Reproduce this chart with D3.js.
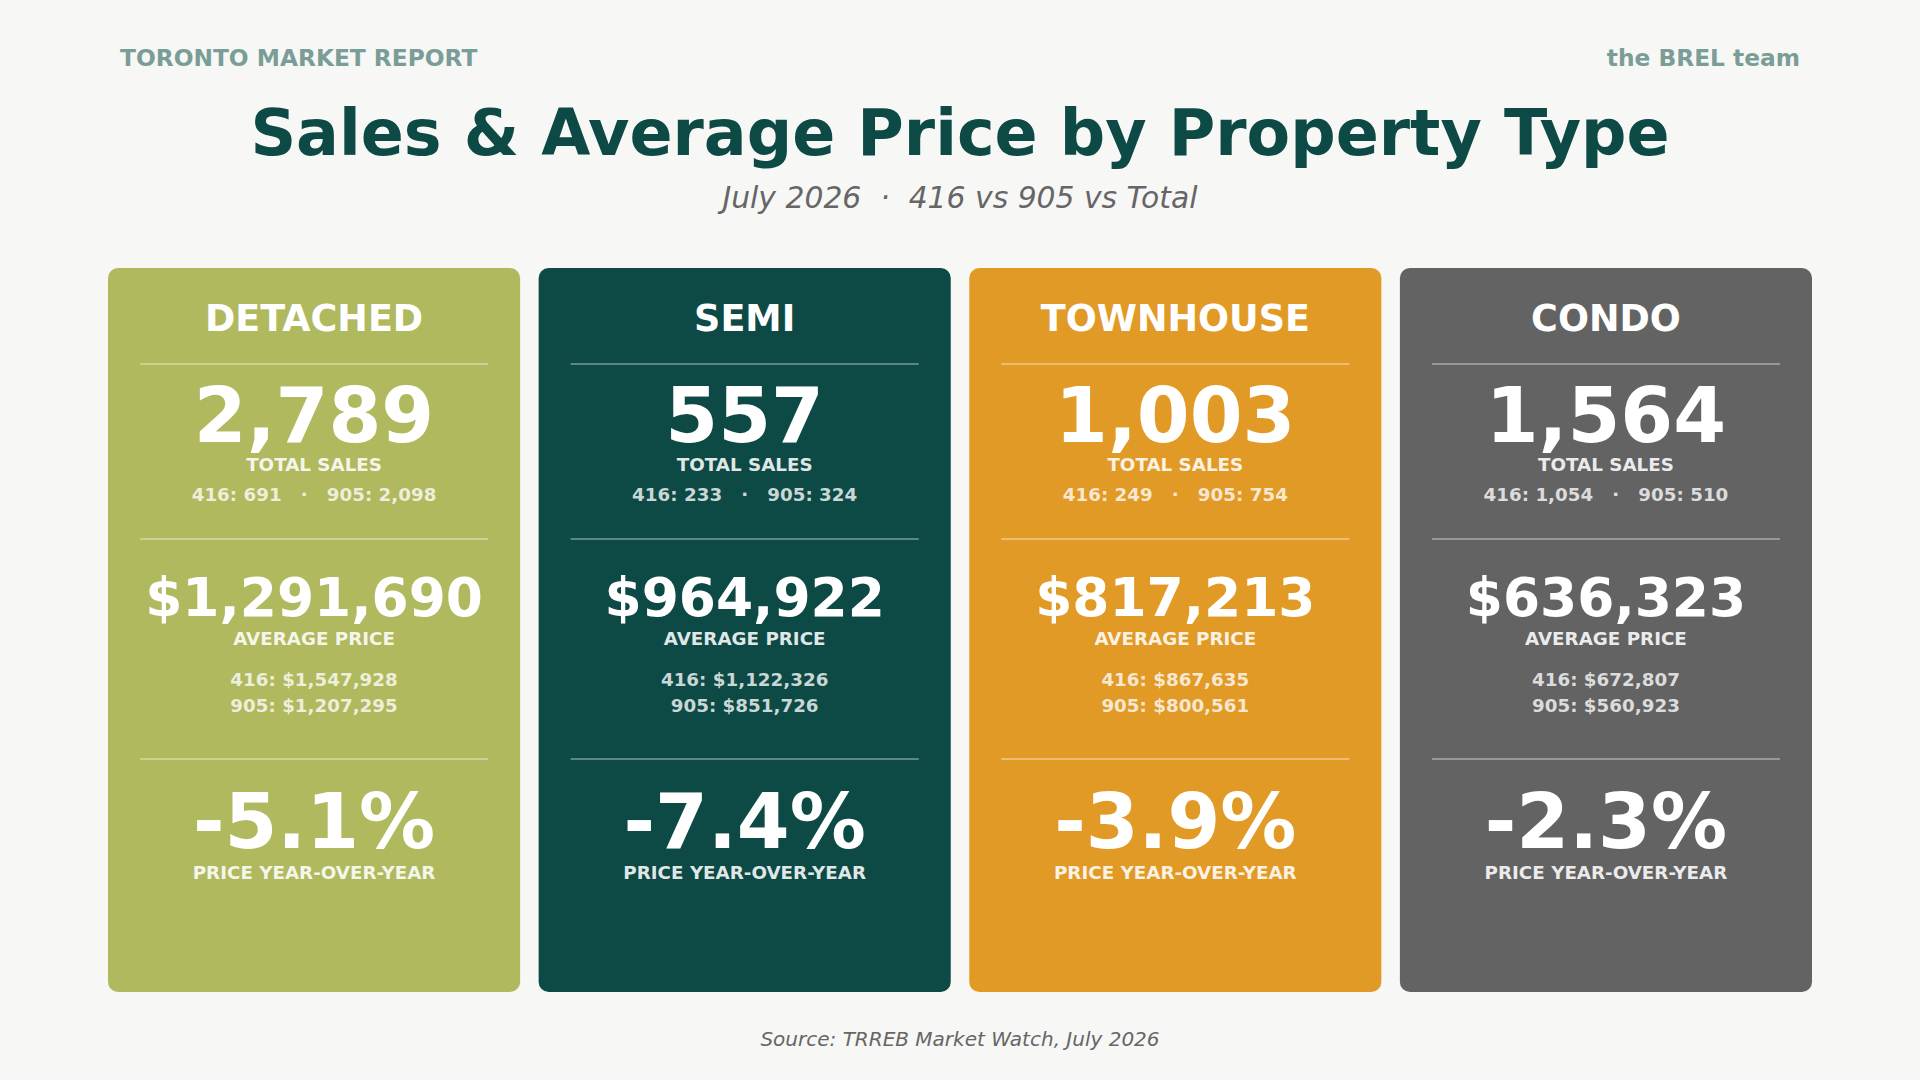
<!DOCTYPE html>
<html>
<head>
<meta charset="utf-8">
<script src="https://cdn.jsdelivr.net/npm/d3@7"></script>
<style>
  html, body { margin: 0; padding: 0; background: #f7f7f5; }
  svg { display: block; font-family: "DejaVu Sans", sans-serif; }
</style>
</head>
<body>
<svg id="chart" width="1920" height="1080"></svg>
<script>
// ---- Data ----
const categories = ["DETACHED", "SEMI", "TOWNHOUSE", "CONDO"];
const totalSales = [2789, 557, 1003, 1564];
const sales416 = [691, 233, 249, 1054];
const sales905 = [2098, 324, 754, 510];
const avgPrice = [1291690, 964922, 817213, 636323];
const avgPrice416 = [1547928, 1122326, 867635, 672807];
const avgPrice905 = [1207295, 851726, 800561, 560923];
const priceYoY = [-5.1, -7.4, -3.9, -2.3];
const cardColors = ["#b0b95e", "#0d4a45", "#e29a27", "#636363"];

const W = 1920, H = 1080;
const svg = d3.select("#chart");
svg.append("rect").attr("width", W).attr("height", H).attr("fill", "#f7f7f5");

const locale = d3.formatLocale({ decimal: ".", thousands: ",", grouping: [3], currency: ["$", ""], minus: "-" });
const fmtInt = locale.format(",");
const fmtMoney = locale.format("$,");
const fmtPct = d => locale.format(".1f")(d) + "%";

// Header
svg.append("text").attr("x", 120).attr("y", 66)
  .attr("font-size", 23.3).attr("font-weight", "bold").attr("fill", "#7a9d97")
  .text("TORONTO MARKET REPORT");
svg.append("text").attr("x", 1800).attr("y", 66).attr("text-anchor", "end")
  .attr("font-size", 23.3).attr("font-weight", "bold").attr("fill", "#7a9d97")
  .text("the BREL team");

svg.append("text").attr("x", 960).attr("y", 155).attr("text-anchor", "middle")
  .attr("font-size", 63.5).attr("font-weight", "bold").attr("fill", "#0d4a45")
  .text("Sales & Average Price by Property Type");

svg.append("text").attr("x", 960).attr("y", 208).attr("text-anchor", "middle")
  .attr("font-size", 29.8).attr("font-style", "italic").attr("fill", "#666666")
  .attr("xml:space", "preserve")
  .text("July 2026  ·  416 vs 905 vs Total");

// Cards
const x = d3.scaleBand().domain(categories).range([108, 1812]).paddingInner(0.043);
const cardTop = 268, cardBottom = 992;
const cw = x.bandwidth();

const cards = svg.selectAll("g.card").data(categories).join("g")
  .attr("class", "card")
  .attr("transform", d => `translate(${x(d)},${cardTop})`);

cards.append("rect")
  .attr("width", cw).attr("height", cardBottom - cardTop)
  .attr("rx", 10).attr("ry", 10)
  .attr("fill", (d, i) => cardColors[i]);

const cx = cw / 2;
const inset = 32;

function addText(sel, y, size, text, opacity) {
  sel.append("text").attr("x", cx).attr("y", y).attr("text-anchor", "middle")
    .attr("font-size", size).attr("font-weight", "bold").attr("fill", "#ffffff")
    .attr("fill-opacity", opacity)
    .attr("xml:space", "preserve")
    .text(text);
}

cards.each(function(d, i) {
  const g = d3.select(this);
  addText(g, 331 - cardTop, 36.5, d, 1);
  [364, 539, 759].forEach(ly => {
    g.append("line").attr("x1", inset).attr("x2", cw - inset)
      .attr("y1", ly - cardTop).attr("y2", ly - cardTop)
      .attr("stroke", "#ffffff").attr("stroke-opacity", 0.45).attr("stroke-width", 1.5);
  });
  addText(g, 442 - cardTop, 76, fmtInt(totalSales[i]), 1);
  addText(g, 470.5 - cardTop, 18.3, "TOTAL SALES", 0.88);
  addText(g, 500.5 - cardTop, 18.3, `416: ${fmtInt(sales416[i])}   ·   905: ${fmtInt(sales905[i])}`, 0.78);
  addText(g, 616 - cardTop, 53.4, fmtMoney(avgPrice[i]), 1);
  addText(g, 645 - cardTop, 18.3, "AVERAGE PRICE", 0.88);
  addText(g, 685.5 - cardTop, 18.3, `416: ${fmtMoney(avgPrice416[i])}`, 0.78);
  addText(g, 711.5 - cardTop, 18.3, `905: ${fmtMoney(avgPrice905[i])}`, 0.78);
  addText(g, 848 - cardTop, 76, fmtPct(priceYoY[i]), 1);
  addText(g, 879 - cardTop, 18.3, "PRICE YEAR-OVER-YEAR", 0.88);
});

svg.append("text").attr("x", 960).attr("y", 1046).attr("text-anchor", "middle")
  .attr("font-size", 20).attr("font-style", "italic").attr("fill", "#666666")
  .text("Source: TRREB Market Watch, July 2026");
</script>
</body>
</html>
